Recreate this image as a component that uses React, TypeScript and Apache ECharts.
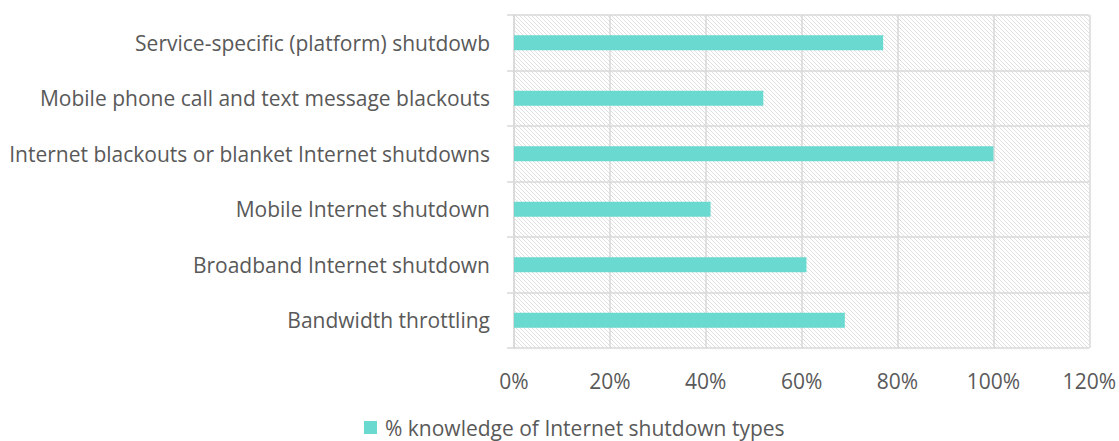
import React, { useEffect, useRef } from "react";
import * as echarts from "echarts";

const categories = [
  "Bandwidth throttling",
  "Broadband Internet shutdown",
  "Mobile Internet shutdown",
  "Internet blackouts or blanket Internet shutdowns",
  "Mobile phone call and text message blackouts",
  "Service-specific (platform) shutdowb",
];
const values = [69, 61, 41, 100, 52, 77];
const seriesName = "% knowledge of Internet shutdown types";
const xTicks = { min: 0, max: 120, interval: 20 };

function makePattern() {
  const c = document.createElement("canvas");
  c.width = 4;
  c.height = 4;
  const ctx = c.getContext("2d")!;
  ctx.fillStyle = "#ffffff";
  ctx.fillRect(0, 0, 4, 4);
  ctx.fillStyle = "#e0e0e0";
  for (let i = 0; i < 4; i++) ctx.fillRect(i, i, 1, 1);
  return { image: c.toDataURL(), repeat: "repeat", imageWidth: 4, imageHeight: 4 };
}

export default function App() {
  const ref = useRef<HTMLDivElement>(null);
  useEffect(() => {
    const chart = echarts.init(ref.current!, null, { renderer: "svg" });
    const textColor = "#595959";
    const lineColor = "#d9d9d9";
    const font = "'Open Sans', sans-serif";
    const fs = 21;
    chart.setOption({
      animation: false,
      textStyle: { fontFamily: font },
      grid: {
        left: 514,
        right: 29,
        top: 15,
        bottom: 93,
        show: true,
        borderWidth: 0,
        backgroundColor: makePattern() as any,
      },
      legend: {
        left: 364,
        top: 417,
        padding: 0,
        itemWidth: 13,
        itemHeight: 13,
        icon: "rect",
        textStyle: { color: textColor, fontSize: fs, fontFamily: font, padding: [0, 0, 0, 3] },
        data: [seriesName],
      },
      xAxis: {
        type: "value",
        min: xTicks.min,
        max: xTicks.max,
        interval: xTicks.interval,
        axisLine: { show: false },
        axisTick: { show: false },
        axisLabel: {
          formatter: "{value}%",
          color: textColor,
          fontSize: fs,
          margin: 22,
          fontFamily: font,
        },
        splitLine: { show: true, lineStyle: { color: lineColor, width: 1.5 } },
      },
      yAxis: {
        type: "category",
        data: categories,
        axisLine: { show: true, lineStyle: { color: lineColor, width: 1.5 } },
        axisTick: { show: true, length: 7, lineStyle: { color: lineColor, width: 1.5 } },
        axisLabel: { color: textColor, fontSize: fs, margin: 24, fontFamily: font },
        splitLine: { show: true, lineStyle: { color: lineColor, width: 1.5 } },
      },
      series: [
        {
          name: seriesName,
          type: "bar",
          data: values,
          barWidth: 15,
          itemStyle: { color: "#6AD9D0" },
        },
      ],
    });
    return () => chart.dispose();
  }, []);
  return <div ref={ref} style={{ width: 1119, height: 441, position: "absolute", left: 0, top: 0 }} />;
}
